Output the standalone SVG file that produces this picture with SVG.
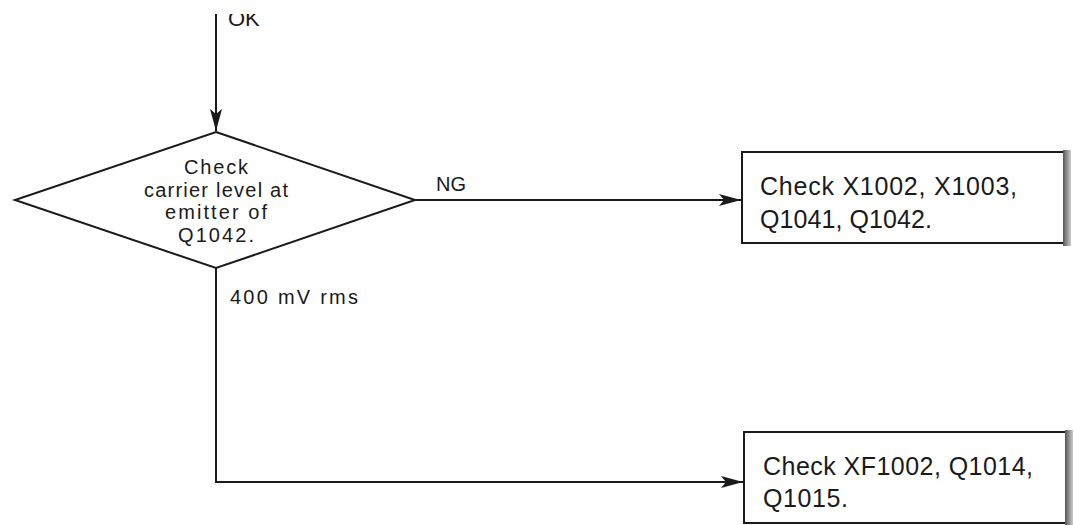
<svg xmlns="http://www.w3.org/2000/svg" width="1074" height="525" viewBox="0 0 1074 525">
<style>
.ln{fill:none;stroke:#1a1a1a;stroke-width:2}
.bx{fill:#fff;stroke:#1a1a1a;stroke-width:2}
.t{font-family:"Liberation Sans",Arial,sans-serif;fill:#1a1a1a}
.d{font-size:20px;text-anchor:middle}
.b{font-size:25px}
.l{font-size:20px}
</style>
<defs>
<marker id="ah" viewBox="0 0 22 12" refX="22" refY="6" markerWidth="22" markerHeight="12" markerUnits="userSpaceOnUse" orient="auto">
<path d="M0,0 L22,6 L0,12 L5,6 Z" fill="#1a1a1a"/>
</marker>
<clipPath id="top"><rect x="0" y="14" width="1074" height="511"/></clipPath>
<linearGradient id="sh" x1="0" x2="1" y1="0" y2="0">
<stop offset="0" stop-color="#555"/>
<stop offset="1" stop-color="#ccc"/>
</linearGradient>
</defs>
<rect width="1074" height="525" fill="#fff"/>
<g id="connectors">
<line class="ln" x1="216" y1="14" x2="216" y2="131" marker-end="url(#ah)"/>
<text class="t" x="228" y="26" clip-path="url(#top)" font-size="22">OK</text>
<line class="ln" x1="415" y1="200" x2="741" y2="200" marker-end="url(#ah)"/>
<text class="t l" x="436" y="191">NG</text>
<polyline class="ln" points="216,268 216,482 743,482" marker-end="url(#ah)"/>
<text class="t l" x="230" y="304" textLength="128" lengthAdjust="spacing">400 mV rms</text>
</g>
<g id="decision">
<polygon class="bx" points="216,132 415,200 216,268 15,200"/>
<text class="t d" x="216" y="174" textLength="64" lengthAdjust="spacing">Check</text>
<text class="t d" x="216" y="197" textLength="144" lengthAdjust="spacing">carrier level at</text>
<text class="t d" x="216" y="219" textLength="102" lengthAdjust="spacing">emitter of</text>
<text class="t d" x="216" y="242" textLength="76" lengthAdjust="spacing">Q1042.</text>
</g>
<g id="box-ng">
<rect class="bx" x="742" y="152" width="322" height="91"/>
<rect x="1063" y="150" width="8" height="96" fill="url(#sh)"/>
<text class="t b" x="760" y="195" textLength="257" lengthAdjust="spacing">Check X1002, X1003,</text>
<text class="t b" x="760" y="228" textLength="172" lengthAdjust="spacing">Q1041, Q1042.</text>
</g>
<g id="box-ok">
<rect class="bx" x="744" y="432" width="322" height="91"/>
<rect x="1065" y="430" width="8" height="95" fill="url(#sh)"/>
<text class="t b" x="763" y="475" textLength="270" lengthAdjust="spacing">Check XF1002, Q1014,</text>
<text class="t b" x="763" y="507" textLength="85" lengthAdjust="spacing">Q1015.</text>
</g>
</svg>
